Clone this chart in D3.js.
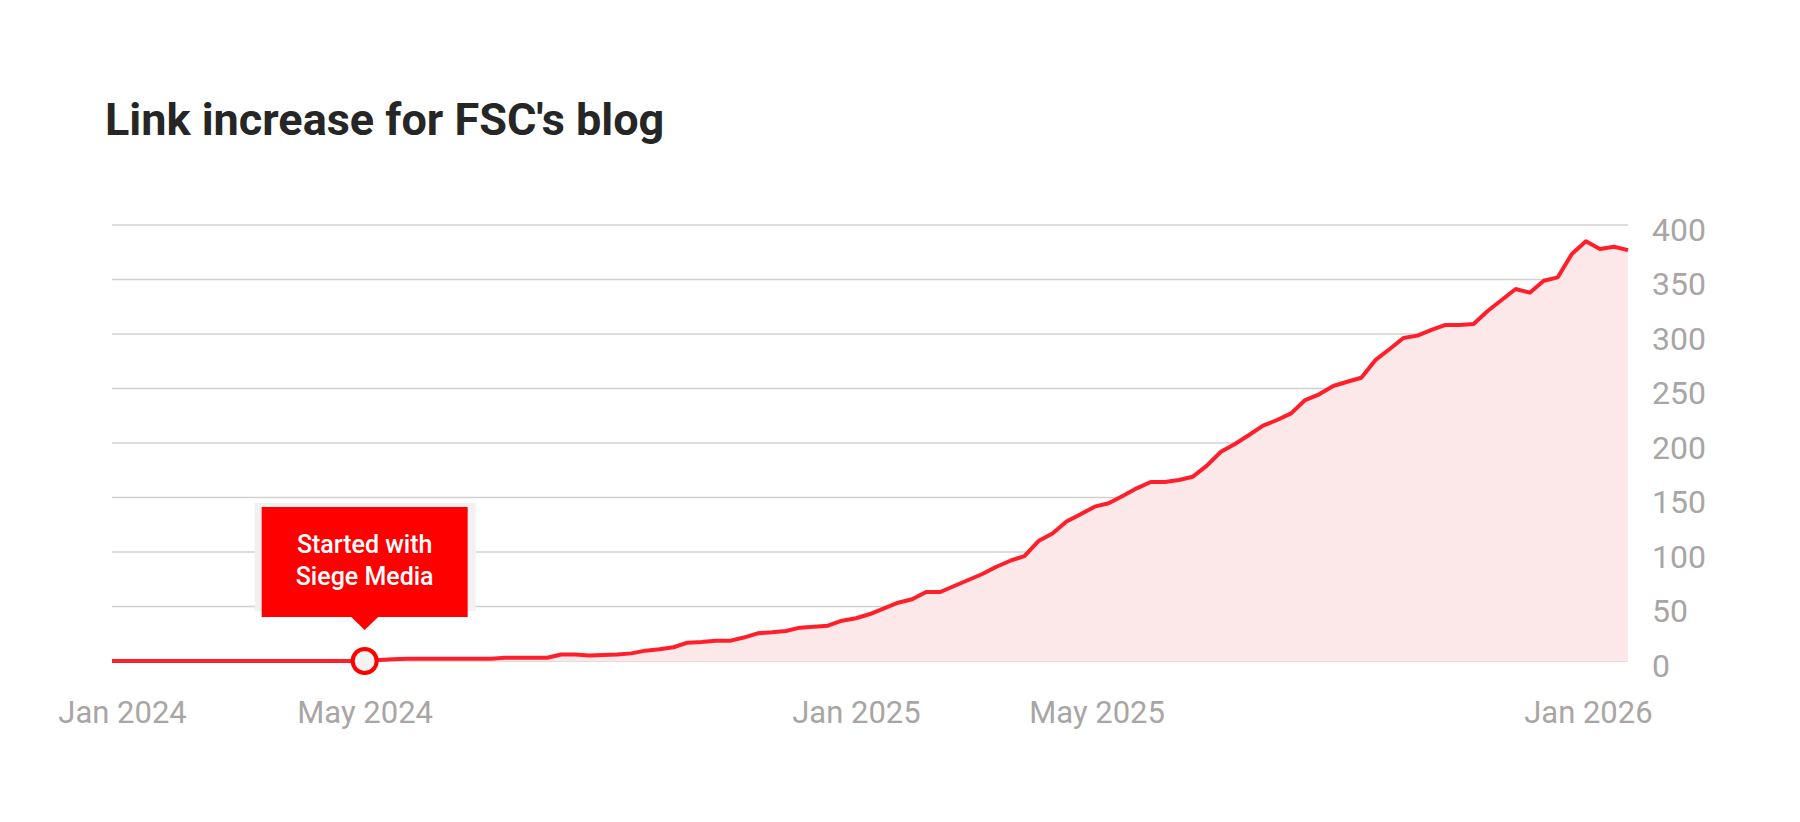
<!DOCTYPE html>
<html>
<head>
<meta charset="utf-8">
<script src="https://cdn.jsdelivr.net/npm/d3@7"></script>
<style>
  body { margin: 0; background: #fff; }
  svg text { font-family: Roboto, "Noto Sans", sans-serif; }
</style>
</head>
<body>
<svg id="chart" width="1800" height="822"></svg>
<script>
// weekly readings, first week starting 27 Dec 2023
var firstWeek = "2023-12-27"
var links = [
    0, 0, 0, 0, 0, 0, 0, 0, 0, 0,
    0, 0, 0, 0, 0, 0, 0, 0, 0, 1,
    1.5, 2, 2, 2, 2, 2, 2, 2, 3, 3,
    3, 3, 6, 6, 5, 5.5, 6, 7, 9.5, 10.7,
    12.6, 16.8, 17.5, 18.5, 18.5, 21.5, 25.4, 26.3, 27.5, 30.6,
    31.5, 32.4, 37, 39.2, 43.1, 48.3, 53.5, 56.6, 63.3, 63.3,
    68.8, 74.3, 79.8, 86.5, 92, 96.3, 110, 117, 128, 134.6,
    141.6, 144.7, 151.4, 158.4, 164.2, 164.2, 166.1, 169.1, 179.2, 192,
    199.1, 207.3, 215.9, 221.1, 227.2, 239.4, 244.7, 252.3, 256.2, 259.9,
    276, 286, 296.3, 298.5, 303.7, 308.3, 308.3, 309.2, 321.1, 331.2,
    341.3, 337.9, 348.9, 352, 373.4, 385, 378, 380.1, 377
]
var yTicks = [0, 50, 100, 150, 200, 250, 300, 350, 400]
var xTicks = ["2024-01-01", "2024-05-01", "2025-01-01", "2025-05-01", "2026-01-01"]
var notes = [
    {date: "2024-05-01", lines: ["Started with", "Siege Media"]}
]
var title = "Link increase for FSC's blog"

var svg = d3.select('#chart')
var plotLeft = 112, plotRight = 1628, plotTop = 225, plotBottom = 661

var parse = d3.utcParse('%Y-%m-%d')
var start = parse(firstWeek)
var data = links.map(function(v, i) {
    return {date: d3.utcDay.offset(start, 7 * i), value: v}
})

var x = d3.scaleUtc()
    .domain([data[0].date, data[data.length - 1].date])
    .range([plotLeft, plotRight])
var y = d3.scaleLinear().domain([0, 400]).range([plotBottom, plotTop])

svg.append('rect').attr('width', 1800).attr('height', 822).attr('fill', '#fff')

svg.append('text')
    .attr('x', 105).attr('y', 135)
    .attr('font-size', 45).attr('font-weight', 700)
    .attr('fill', '#262626')
    .text(title)

// gridlines
svg.append('g')
    .selectAll('line')
    .data(yTicks)
    .enter()
    .append('line')
    .attr('x1', plotLeft).attr('x2', plotRight)
    .attr('y1', function(d) { return y(d) })
    .attr('y2', function(d) { return y(d) })
    .attr('stroke', '#d4d0d0')
    .attr('stroke-width', 1.5)

// area + line
var area = d3.area()
    .x(function(d) { return x(d.date) })
    .y0(y(0))
    .y1(function(d) { return y(d.value) })
var line = d3.line()
    .x(function(d) { return x(d.date) })
    .y(function(d) { return y(d.value) })

svg.append('path').datum(data)
    .attr('d', area)
    .attr('fill', '#fde8e9')
svg.append('path').datum(data)
    .attr('d', line)
    .attr('fill', 'none')
    .attr('stroke', '#ff1f2b')
    .attr('stroke-width', 4)
    .attr('stroke-linejoin', 'round')

// y axis on the right
var yAxis = svg.append('g')
    .attr('transform', 'translate(' + (plotRight + 24) + ',0)')
    .call(d3.axisRight(y).tickValues(yTicks).tickSize(0).tickPadding(0))
yAxis.select('.domain').remove()
yAxis.selectAll('text')
    .attr('font-size', 32)
    .attr('font-family', 'Roboto, sans-serif')
    .attr('fill', '#aaa5a5')
    .attr('dy', '0.48em')

// x axis
var xAxis = svg.append('g')
    .attr('transform', 'translate(0,' + plotBottom + ')')
    .call(d3.axisBottom(x)
        .tickValues(xTicks.map(parse))
        .tickFormat(d3.utcFormat('%b %Y'))
        .tickSize(0).tickPadding(0))
xAxis.select('.domain').remove()
xAxis.selectAll('text')
    .attr('font-size', 31)
    .attr('font-family', 'Roboto, sans-serif')
    .attr('fill', '#aaa5a5')
    .attr('dy', null)
    .attr('y', 62)

// annotation
notes.forEach(function(n) {
    var d = parse(n.date)
    var near = data.reduce(function(a, b) {
        return Math.abs(b.date - d) < Math.abs(a.date - d) ? b : a
    })
    var g = svg.append('g')
        .attr('transform', 'translate(' + x(near.date) + ',' + y(near.value) + ')')
    g.append('rect')
        .attr('x', -110).attr('y', -158).attr('width', 221).attr('height', 108)
        .attr('fill', '#f1f1f1')
    g.append('rect')
        .attr('x', -103).attr('y', -154).attr('width', 206).attr('height', 110)
        .attr('fill', '#ff0000')
    g.append('path')
        .attr('d', 'M-14,-44.5L14,-44.5L0,-31Z')
        .attr('fill', '#ff0000')
    g.selectAll('text.note')
        .data(n.lines)
        .enter()
        .append('text')
        .attr('class', 'note')
        .attr('x', 0)
        .attr('y', function(t, i) { return -108 + i * 32 })
        .attr('text-anchor', 'middle')
        .attr('font-size', 25).attr('font-weight', 500)
        .attr('fill', '#fff')
        .text(function(t) { return t })
    g.append('circle')
        .attr('r', 12)
        .attr('fill', '#f3f3f3')
        .attr('stroke', '#ff0000')
        .attr('stroke-width', 4)
})
</script>
</body>
</html>
